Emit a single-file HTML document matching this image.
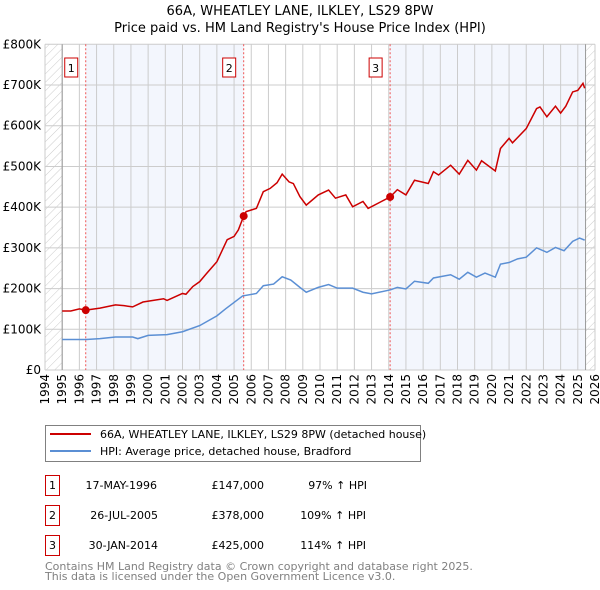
<!DOCTYPE html>
<html><head><meta charset="utf-8"><style>
body{margin:0;background:#fff;width:600px;height:590px;overflow:hidden;font-family:"DejaVu Sans","Liberation Sans",sans-serif;}
svg{display:block}
</style></head><body>
<svg width="600" height="590" viewBox="0 0 600 590" xmlns="http://www.w3.org/2000/svg" font-family="DejaVu Sans, Liberation Sans, sans-serif">
<defs><pattern id="hatch" width="6" height="6" patternUnits="userSpaceOnUse" patternTransform="rotate(45)"><line x1="0" y1="0" x2="0" y2="6" stroke="#ccc" stroke-width="1"/></pattern></defs>
<text x="300" y="15" text-anchor="middle" font-size="13">66A, WHEATLEY LANE, ILKLEY, LS29 8PW</text>
<text x="300" y="32" text-anchor="middle" font-size="13">Price paid vs. HM Land Registry's House Price Index (HPI)</text>
<g id="plot"></g>
<g>
<rect x="45.5" y="425.5" width="375" height="36" fill="#fff" stroke="#808080"/>
<line x1="50" y1="434" x2="91" y2="434" stroke="#cc0000" stroke-width="2"/>
<text x="100" y="438" font-size="11">66A, WHEATLEY LANE, ILKLEY, LS29 8PW (detached house)</text>
<line x1="50" y1="451" x2="91" y2="451" stroke="#5b8fd4" stroke-width="2"/>
<text x="100" y="455" font-size="11">HPI: Average price, detached house, Bradford</text>
</g>
<g font-size="11">
<rect x="45.5" y="475.5" width="14" height="20" fill="none" stroke="#cc0000"/><text x="52.5" y="489" text-anchor="middle">1</text>
<text x="157" y="489" text-anchor="end">17-MAY-1996</text><text x="264" y="489" text-anchor="end">£147,000</text><text x="367" y="489" text-anchor="end">97% ↑ HPI</text>
<rect x="45.5" y="505.5" width="14" height="20" fill="none" stroke="#cc0000"/><text x="52.5" y="519" text-anchor="middle">2</text>
<text x="158" y="519" text-anchor="end">26-JUL-2005</text><text x="264" y="519" text-anchor="end">£378,000</text><text x="366" y="519" text-anchor="end">109% ↑ HPI</text>
<rect x="45.5" y="535.5" width="14" height="20" fill="none" stroke="#cc0000"/><text x="52.5" y="549" text-anchor="middle">3</text>
<text x="158" y="549" text-anchor="end">30-JAN-2014</text><text x="264" y="549" text-anchor="end">£425,000</text><text x="366" y="549" text-anchor="end">114% ↑ HPI</text>
</g>
<text x="45" y="570" font-size="11" fill="#808080">Contains HM Land Registry data © Crown copyright and database right 2025.</text>
<text x="45" y="580" font-size="11" fill="#808080">This data is licensed under the Open Government Licence v3.0.</text>
</svg>
<script>
const redYears=[1995,1995.5,1996,1996.37,1997.2,1998.1,1998.6,1999.1,1999.7,2000.9,2001.1,2002,2002.2,2002.6,2003,2003.4,2004,2004.6,2005,2005.25,2005.56,2005.7,2006.3,2006.7,2007.1,2007.5,2007.8,2008.2,2008.45,2008.83,2009.2,2009.9,2010.5,2010.9,2011.5,2011.9,2012.5,2012.8,2014.08,2014.5,2015,2015.5,2016.3,2016.6,2016.9,2017.6,2018.1,2018.6,2019.1,2019.4,2020.2,2020.5,2021,2021.2,2021.5,2022,2022.6,2022.8,2023.2,2023.7,2024,2024.3,2024.7,2025,2025.3,2025.4];
const redValues=[145,145,150,147,152,160,158,155,167,175,171,188,186,205,217,237,266,320,328,344,378,389,397,438,446,460,481,462,458,426,405,430,442,422,430,401,414,397,425,443,430,466,458,487,479,503,481,515,491,514,489,544,569,558,571,593,642,646,622,648,631,648,683,687,704,692];
const hpiYears=[1995,1996.4,1997.2,1998.1,1999.1,1999.4,2000,2001.1,2002,2003,2004,2004.5,2005,2005.5,2006.3,2006.7,2007.3,2007.8,2008.3,2008.83,2009.2,2009.9,2010.5,2011,2011.9,2012.5,2013,2014.1,2014.5,2015,2015.5,2016.3,2016.6,2017.6,2018.1,2018.6,2019.1,2019.6,2020.2,2020.5,2021,2021.5,2022,2022.6,2023.2,2023.7,2024.2,2024.7,2025.1,2025.4];
const hpiValues=[75,75,77,81,81,77,85,87,94,109,133,150,166,182,188,207,211,229,221,203,191,203,210,201,201,191,187,197,203,199,218,213,226,234,223,240,228,238,228,260,264,273,277,300,289,301,293,316,324,319];
const saleYears=[1996.37,2005.56,2014.08];
const saleValues=[147,378,425];
const saleLabels=["1","2","3"];
const yTicks=[0,100,200,300,400,500,600,700,800];
const yTickLabels=["£0","£100K","£200K","£300K","£400K","£500K","£600K","£700K","£800K"];
const xTicks=[1994,1995,1996,1997,1998,1999,2000,2001,2002,2003,2004,2005,2006,2007,2008,2009,2010,2011,2012,2013,2014,2015,2016,2017,2018,2019,2020,2021,2022,2023,2024,2025,2026];
const dataEnd=2025.45;

const L=45,R=595,T=44.3,B=370;
const xs=y=>L+(y-1994)/(2026-1994)*(R-L);
const ys=v=>B-v/800*(B-T);
const NS="http://www.w3.org/2000/svg";
const g=document.getElementById('plot');
function mk(t,a,p){const e=document.createElementNS(NS,t);for(const k in a)e.setAttribute(k,a[k]);(p||g).appendChild(e);return e;}

let e;
e=mk('rect',{x:xs(saleYears[0]),y:T,width:xs(saleYears[1])-xs(saleYears[0]),height:B-T,fill:'#f3f6fd'});


e=mk('rect',{x:xs(saleYears[2]),y:T,width:xs(dataEnd)-xs(saleYears[2]),height:B-T,fill:'#f3f6fd'});


e=mk('rect',{x:L,y:T,width:xs(1995)-L,height:B-T,fill:'url(#hatch)'});


e=mk('rect',{x:xs(dataEnd),y:T,width:R-xs(dataEnd),height:B-T,fill:'url(#hatch)'});



yTicks.forEach((v,i)=>{
  e=mk('line',{x1:L,x2:R,y1:ys(v),y2:ys(v),stroke:'#cccccc'});
  
  
  e=mk('text',{x:L-4,y:ys(v)+4,'text-anchor':'end','font-size':12});
  e.textContent=yTickLabels[i];
  
  
});
xTicks.forEach(y=>{
  e=mk('line',{x1:xs(y),x2:xs(y),y1:T,y2:B,stroke:'#cccccc'});
  
  
  const tx=xs(y)+4,ty=B+4;
  e=mk('text',{x:tx,y:ty,'text-anchor':'end','font-size':12,transform:`rotate(-90 ${tx} ${ty})`});
  e.textContent=y;
  
  
});
e=mk('line',{x1:xs(1995),x2:xs(1995),y1:T,y2:B,stroke:'#999'});


e=mk('line',{x1:xs(dataEnd),x2:xs(dataEnd),y1:T,y2:B,stroke:'#999'});



saleYears.forEach((y,i)=>{
  e=mk('line',{x1:xs(y),x2:xs(y),y1:T,y2:B,stroke:'#ee5555','stroke-dasharray':'2,2'});
  
  
  e=mk('rect',{x:xs(y)-21,y:58,width:13,height:19,fill:'#fff',stroke:'#cc0000'});
  
  
  e=mk('text',{x:xs(y)-14.5,y:72,'text-anchor':'middle','font-size':11});
  e.textContent=saleLabels[i];
  
  
});

e=mk('polyline',{points:hpiYears.map((y,i)=>xs(y)+','+ys(hpiValues[i])).join(' '),fill:'none',stroke:'#5b8fd4','stroke-width':1.5});


e=mk('polyline',{points:redYears.map((y,i)=>xs(y)+','+ys(redValues[i])).join(' '),fill:'none',stroke:'#cc0000','stroke-width':1.5});


saleYears.forEach((y,i)=>{
  e=mk('circle',{cx:xs(y),cy:ys(saleValues[i]),r:4,fill:'#cc0000'});
  
  
});
</script>
</body></html>
